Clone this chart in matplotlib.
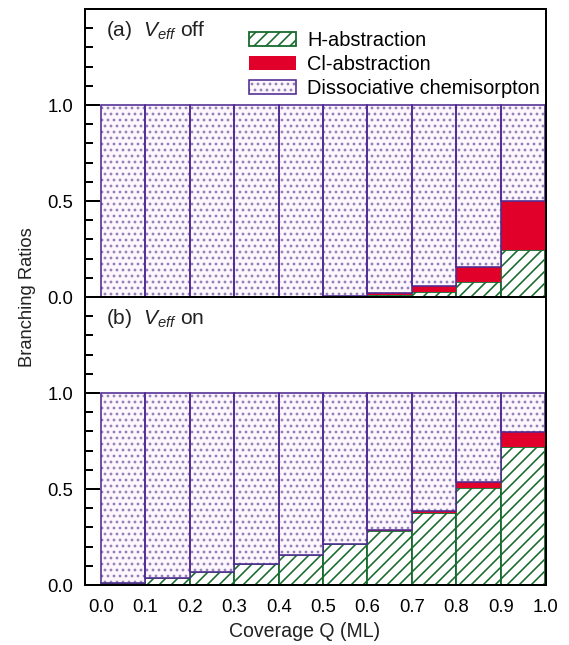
import numpy as np
import matplotlib
matplotlib.use("Agg")
import matplotlib.pyplot as plt
from matplotlib.patches import Patch
from matplotlib.legend_handler import HandlerTuple
from matplotlib.ticker import MultipleLocator

plt.rcParams['font.family'] = ['Liberation Sans', 'DejaVu Sans']
plt.rcParams['mathtext.fontset'] = 'custom'
plt.rcParams['mathtext.it'] = 'Liberation Sans:italic'
plt.rcParams['mathtext.rm'] = 'Liberation Sans'
plt.rcParams['hatch.linewidth'] = 1.6

# donnees
coverage = [0.0, 0.1, 0.2, 0.3, 0.4, 0.5, 0.6, 0.7, 0.8, 0.9]
xticks = [0.0, 0.1, 0.2, 0.3, 0.4, 0.5, 0.6, 0.7, 0.8, 0.9, 1.0]
yticks = [0.0, 0.5, 1.0]

# (a) Veff off
h_off = [0.0, 0.0, 0.0, 0.0, 0.0, 0.003, 0.01, 0.026, 0.079, 0.247]
cl_off = [0.0, 0.0, 0.0, 0.0, 0.0, 0.003, 0.009, 0.032, 0.077, 0.253]
diss_off = [1.0, 1.0, 1.0, 1.0, 1.0, 0.994, 0.981, 0.942, 0.844, 0.5]
# (b) Veff on
h_on = [0.012, 0.035, 0.07, 0.107, 0.157, 0.214, 0.28, 0.376, 0.505, 0.719]
cl_on = [0.0, 0.0, 0.0, 0.0, 0.0, 0.0, 0.006, 0.012, 0.033, 0.079]
diss_on = [0.988, 0.965, 0.93, 0.893, 0.843, 0.786, 0.714, 0.612, 0.462, 0.202]

GREEN = '#176b2c'
RED = '#e0002a'
LAV = '#fdf7fd'
DOT = '#9283bb'
PURPLE = '#4f2a92'
W = 0.1

DPI = 72
fig = plt.figure(figsize=(569 / DPI, 645 / DPI), dpi=DPI)
ax_b = fig.add_axes([0.1494, 0.0930, 0.8102, 0.4465])
ax_a = fig.add_axes([0.1494, 0.5395, 0.8102, 0.4465], sharex=ax_b)


def panneau(ax, h, cl, diss, titre):
    h = np.array(h)
    cl = np.array(cl)
    ax.bar(coverage, h, width=W, align='edge', color='white',
           edgecolor=GREEN, hatch='//', linewidth=1.8)
    ax.bar(coverage, cl, bottom=h, width=W, align='edge', color=RED,
           linewidth=0)
    ax.bar(coverage, diss, bottom=h + cl, width=W, align='edge', color=LAV,
           edgecolor=DOT, hatch='..', linewidth=0)
    ax.bar(coverage, diss, bottom=h + cl, width=W, align='edge', fill=False,
           edgecolor=PURPLE, linewidth=1.6)
    ax.set_ylim(0, 1.5)
    ax.set_xlim(-0.036, 1.002)
    ax.set_yticks(yticks)
    ax.set_yticklabels(['%.1f' % v for v in yticks])
    ax.yaxis.set_minor_locator(MultipleLocator(0.1))
    ax.tick_params(axis='y', which='major', direction='in', length=15,
                   width=2, labelsize=18.5, pad=12)
    ax.tick_params(axis='y', which='minor', direction='in', length=8,
                   width=2)
    ax.tick_params(axis='x', length=0, labelsize=18.5, pad=14)
    for s in ax.spines.values():
        s.set_linewidth(2)
    ax.text(0.046, 0.905, titre, transform=ax.transAxes, fontsize=21,
            va='baseline', ha='left', color='#222222')


panneau(ax_a, h_off, cl_off, diss_off, r"(a)  $V_{eff}$ off")
panneau(ax_b, h_on, cl_on, diss_on, r"(b)  $V_{eff}$ on")
ax_b.set_xticks(xticks)
ax_b.set_xticklabels(['%.1f' % v for v in xticks])
ax_a.tick_params(axis='x', labelbottom=False)

handles = [Patch(facecolor='white', edgecolor=GREEN, hatch='//', linewidth=1.8),
           Patch(facecolor=RED, linewidth=0),
           (Patch(facecolor=LAV, edgecolor=DOT, hatch='..', linewidth=0),
            Patch(fill=False, edgecolor=PURPLE, linewidth=1.6))]
labels = ['H-abstraction', 'Cl-abstraction', 'Dissociative chemisorpton']
ax_a.legend(handles, labels, loc='upper left', bbox_to_anchor=(0.356, 0.925),
            frameon=False, fontsize=20, borderpad=0, borderaxespad=0,
            handlelength=2.35, handleheight=0.72, handletextpad=0.55,
            labelspacing=0.25, handler_map={tuple: HandlerTuple(ndivide=1)})

fig.text(27 / 569, 1 - 297 / 645, 'Branching Ratios', rotation=90,
         ha='center', va='center', fontsize=18.4, color='#222222')
fig.text(305 / 569, 8 / 645, 'Coverage Q (ML)', ha='center',
         va='baseline', fontsize=19.5, color='#222222')

fig.savefig('out.png', dpi=DPI)
